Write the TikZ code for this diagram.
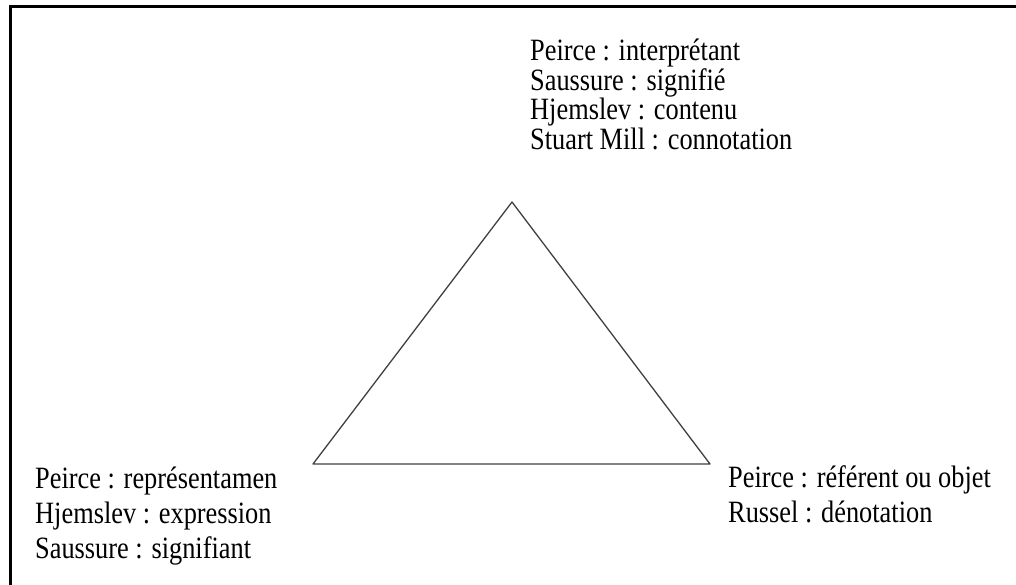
\documentclass[tikz,border=0pt]{standalone}
\usepackage{fontspec}
\setmainfont{Liberation Serif}[FakeStretch=0.85]

\tikzset{
	label/.style={anchor=base west, inner sep=0pt, align=left, font=\fontsize{31}{29.5}\selectfont},
	labellow/.style={label, font=\fontsize{31}{35}\selectfont}
}

\begin{document}
\begin{tikzpicture}[x=1pt,y=-1pt]
%
	\clip (0,0) rectangle (1016,585);
	\draw[line width=3pt] (10,7) rectangle (1040,610);
%
	\coordinate (top) at (512,202);
	\coordinate (left) at (313,464);
	\coordinate (right) at (710,464);
	\draw[black!75, line width=1.3pt, line join=round] (top) -- (left) -- (right) -- cycle;
%
	% base anchor sits on the last line
	\node[label] (interp) at (530,149.5) {Peirce : interprétant\\Saussure : signifié\\Hjemslev : contenu\\Stuart Mill : connotation};
	\node[labellow] (repr) at (35,558) {Peirce : représentamen\\Hjemslev : expression\\Saussure : signifiant};
	\node[labellow] (objet) at (728,522) {Peirce : référent ou objet\\Russel : dénotation};
\end{tikzpicture}
\end{document}
